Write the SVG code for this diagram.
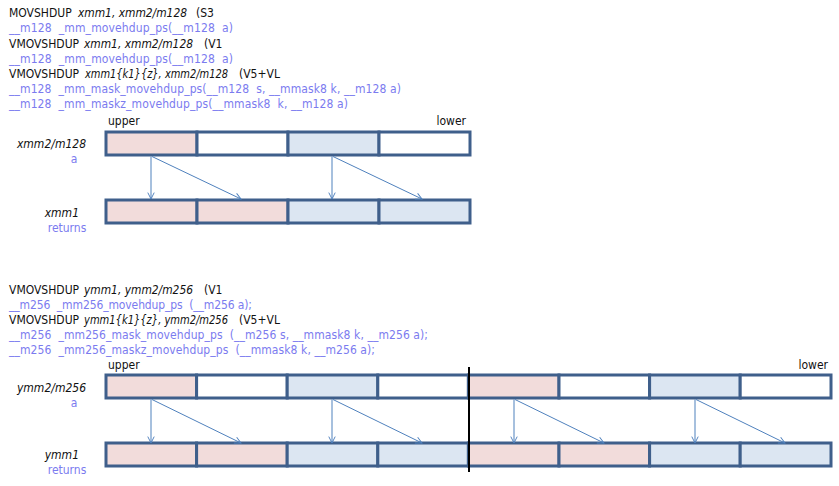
<svg xmlns="http://www.w3.org/2000/svg" width="839" height="486" viewBox="0 0 839 486">
<style>
text{font-family:"DejaVu Sans Condensed","DejaVu Sans",sans-serif;font-size:12px;white-space:pre}
.k{fill:#111}
.b{fill:#7b7bef}
.i{font-style:italic}
.cell{stroke:#3f5f8b;stroke-width:3}
.p{fill:#f2dcdb}
.u{fill:#dce6f2}
.w{fill:#fff}
.ar{stroke:#4f81bd;stroke-width:1;fill:none;marker-end:url(#ah)}
</style>
<defs>
<marker id="ah" viewBox="0 0 10 10" refX="9" refY="5" markerWidth="8" markerHeight="8" orient="auto" markerUnits="userSpaceOnUse">
<path d="M1,1 L9,5 L1,9" fill="none" stroke="#4f81bd" stroke-width="1.2"/>
</marker>
</defs>
<rect width="839" height="486" fill="#fff"/>
<g id="header128">
<text x="9" y="17" class="k">MOVSHDUP <tspan class="i" x="78" textLength="109" lengthAdjust="spacingAndGlyphs">xmm1, xmm2/m128</tspan><tspan x="196">(S3</tspan></text>
<text xml:space="preserve" x="9" y="32" class="b" textLength="224" lengthAdjust="spacing">__m128  _mm_movehdup_ps(__m128  a)</text>
<text x="9" y="48" class="k">VMOVSHDUP <tspan class="i" x="84" textLength="109" lengthAdjust="spacingAndGlyphs">xmm1, xmm2/m128</tspan><tspan x="204">(V1</tspan></text>
<text xml:space="preserve" x="9" y="63" class="b" textLength="224" lengthAdjust="spacing">__m128  _mm_movehdup_ps(__m128  a)</text>
<text x="9" y="78" class="k">VMOVSHDUP <tspan class="i" x="85" textLength="143" lengthAdjust="spacingAndGlyphs">xmm1{k1}{z}, xmm2/m128</tspan><tspan x="239">(V5+VL</tspan></text>
<text xml:space="preserve" x="9" y="93" class="b" textLength="392" lengthAdjust="spacing">__m128  _mm_mask_movehdup_ps(__m128  s, __mmask8 k, __m128 a)</text>
<text xml:space="preserve" x="9" y="108" class="b" textLength="339" lengthAdjust="spacing">__m128  _mm_maskz_movehdup_ps(__mmask8  k, __m128 a)</text>
</g>
<g id="labels128">
<text x="108" y="125" class="k">upper</text>
<text x="466" y="125" class="k" text-anchor="end">lower</text>
<text x="86" y="148" class="k i" text-anchor="end">xmm2/m128</text>
<text x="74" y="163" class="b" text-anchor="middle">a</text>
<text x="79" y="217" class="k i" text-anchor="end">xmm1</text>
<text x="67" y="232" class="b" text-anchor="middle">returns</text>
</g>
<g id="xmm2">
<rect class="cell p" x="106" y="132" width="91" height="23"/>
<rect class="cell w" x="197" y="132" width="91" height="23"/>
<rect class="cell u" x="288" y="132" width="91" height="23"/>
<rect class="cell w" x="379" y="132" width="91" height="23"/>
</g>
<g id="xmm1">
<rect class="cell p" x="106" y="200" width="91" height="23"/>
<rect class="cell p" x="197" y="200" width="91" height="23"/>
<rect class="cell u" x="288" y="200" width="91" height="23"/>
<rect class="cell u" x="379" y="200" width="91" height="23"/>
</g>
<g id="header256">
<text x="9" y="294" class="k">VMOVSHDUP <tspan class="i" x="84" textLength="109" lengthAdjust="spacingAndGlyphs">ymm1, ymm2/m256</tspan><tspan x="204">(V1</tspan></text>
<text xml:space="preserve" x="9" y="309" class="b" textLength="243" lengthAdjust="spacing">__m256  _mm256_movehdup_ps  (__m256 a);</text>
<text x="9" y="324" class="k">VMOVSHDUP <tspan class="i" x="84" textLength="144" lengthAdjust="spacingAndGlyphs">ymm1{k1}{z}, ymm2/m256</tspan><tspan x="239">(V5+VL</tspan></text>
<text xml:space="preserve" x="9" y="339" class="b" textLength="419" lengthAdjust="spacing">__m256  _mm256_mask_movehdup_ps  (__m256 s, __mmask8 k, __m256 a);</text>
<text xml:space="preserve" x="9" y="354" class="b" textLength="366" lengthAdjust="spacing">__m256  _mm256_maskz_movehdup_ps  (__mmask8 k, __m256 a);</text>
</g>
<g id="labels256">
<text x="108" y="369" class="k">upper</text>
<text x="828" y="369" class="k" text-anchor="end">lower</text>
<text x="86" y="392" class="k i" text-anchor="end">ymm2/m256</text>
<text x="74" y="407" class="b" text-anchor="middle">a</text>
<text x="79" y="459" class="k i" text-anchor="end">ymm1</text>
<text x="67" y="474" class="b" text-anchor="middle">returns</text>
</g>
<g id="ymm2">
<rect class="cell p" x="106" y="375" width="90.6" height="23"/>
<rect class="cell w" x="196.6" y="375" width="90.6" height="23"/>
<rect class="cell u" x="287.2" y="375" width="90.6" height="23"/>
<rect class="cell w" x="377.8" y="375" width="90.6" height="23"/>
<rect class="cell p" x="468.4" y="375" width="90.6" height="23"/>
<rect class="cell w" x="559" y="375" width="90.6" height="23"/>
<rect class="cell u" x="649.6" y="375" width="90.6" height="23"/>
<rect class="cell w" x="740.2" y="375" width="90.8" height="23"/>
</g>
<g id="ymm1">
<rect class="cell p" x="106" y="443" width="90.6" height="23"/>
<rect class="cell p" x="196.6" y="443" width="90.6" height="23"/>
<rect class="cell u" x="287.2" y="443" width="90.6" height="23"/>
<rect class="cell u" x="377.8" y="443" width="90.6" height="23"/>
<rect class="cell p" x="468.4" y="443" width="90.6" height="23"/>
<rect class="cell p" x="559" y="443" width="90.6" height="23"/>
<rect class="cell u" x="649.6" y="443" width="90.6" height="23"/>
<rect class="cell u" x="740.2" y="443" width="90.8" height="23"/>
</g>
<g id="lane-divider">
<line x1="469" y1="367" x2="469" y2="472" stroke="#000" stroke-width="2"/>
</g>
<g id="connectors">
<line class="ar" x1="151" y1="156.5" x2="151" y2="199"/>
<line class="ar" x1="152" y1="156.5" x2="241" y2="199"/>
<line class="ar" x1="332" y1="156.5" x2="332" y2="199"/>
<line class="ar" x1="333" y1="156.5" x2="422" y2="199"/>
<line class="ar" x1="151" y1="399.5" x2="151" y2="443"/>
<line class="ar" x1="152" y1="399.5" x2="241" y2="443"/>
<line class="ar" x1="332" y1="399.5" x2="332" y2="443"/>
<line class="ar" x1="333" y1="399.5" x2="422" y2="443"/>
<line class="ar" x1="514" y1="399.5" x2="514" y2="443"/>
<line class="ar" x1="515" y1="399.5" x2="604" y2="443"/>
<line class="ar" x1="695" y1="399.5" x2="695" y2="443"/>
<line class="ar" x1="696" y1="399.5" x2="785" y2="443"/>
</g>
</svg>
